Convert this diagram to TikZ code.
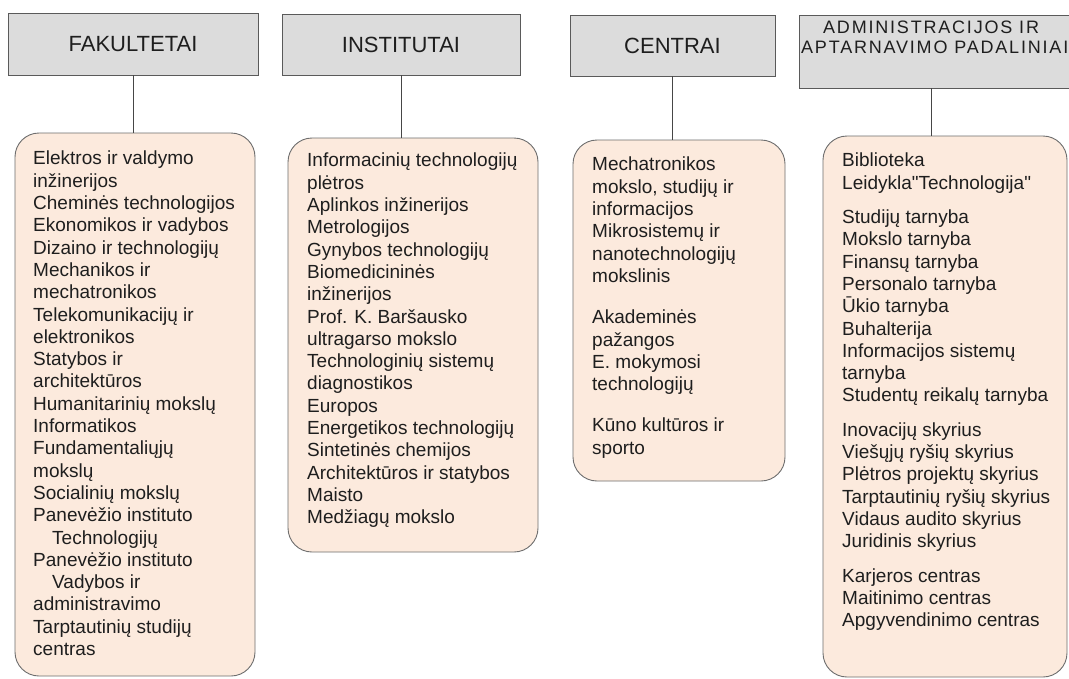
\documentclass[tikz,border=0pt]{standalone}
\usepackage{fontspec}
\setmainfont{Liberation Sans}
\definecolor{hdrfill}{RGB}{220,220,220}
\definecolor{hdrdraw}{RGB}{90,90,90}
\definecolor{boxfill}{RGB}{252,234,221}
\definecolor{boxdraw}{RGB}{110,110,110}
\definecolor{linkc}{RGB}{70,70,70}
\definecolor{txt}{RGB}{30,30,30}
\begin{document}
\begin{tikzpicture}[x=1pt,y=-1pt,
  hdr/.style={draw=hdrdraw, fill=hdrfill, line width=0.9pt, inner sep=0pt, font=\fontsize{22}{25}\selectfont, text=txt},
  cbox/.style={draw=boxdraw, fill=boxfill, line width=0.9pt, rounded corners=24pt, inner sep=0pt},
  list/.style={anchor=north west, align=left, inner sep=0pt, font=\fontsize{19}{22.3}\selectfont, text=txt},
  link/.style={draw=linkc, line width=0.9pt}]
\useasboundingbox (0,0) rectangle (1069,678);
\clip (0,0) rectangle (1069,678);
\fill[white] (0,0) rectangle (1069,678);

% headers
\node[hdr, minimum width=250pt, minimum height=62pt] (h1) at (133,44) {FAKULTETAI};
\node[hdr, minimum width=238pt, minimum height=61pt] (h2) at (401,44.5) {INSTITUTAI};
\node[hdr, minimum width=205pt, minimum height=61pt] (h3) at (672.5,45.5) {CENTRAI};
\node[hdr, minimum width=280pt, minimum height=73pt] (h4) at (939,51.5) {};
\node[anchor=north west, align=left, inner sep=0pt, text=txt,
      font=\fontsize{18}{19.5}\selectfont\addfontfeature{LetterSpace=10}] (h4t) at (801,21)
      {\hspace*{22pt}ADMINISTRACIJOS IR\\APTARNAVIMO PADALINIAI};

% content boxes
\node[cbox, minimum width=240pt, minimum height=543pt] (b1) at (135,404.5) {};
\node[cbox, minimum width=250pt, minimum height=414pt] (b2) at (413,345) {};
\node[cbox, minimum width=212pt, minimum height=341pt] (b3) at (679,310.5) {};
\node[cbox, minimum width=244pt, minimum height=541pt] (b4) at (945,406.5) {};

% connectors
\draw[link] (h1.south) -- (h1.south |- b1.north);
\draw[link] (h2.south) -- (h2.south |- b2.north);
\draw[link] (h3.south) -- (h3.south |- b3.north);
\draw[link] ([xshift=-8pt]h4.south) -- ([xshift=-8pt]h4.south |- b4.north);

% lists
\node[list] (l1) at (33,151) {Elektros ir valdymo\\inžinerijos\\Cheminės technologijos\\Ekonomikos ir vadybos\\Dizaino ir technologijų\\Mechanikos ir\\mechatronikos\\Telekomunikacijų ir\\elektronikos\\Statybos ir\\architektūros\\Humanitarinių mokslų\\Informatikos\\Fundamentaliųjų\\mokslų\\Socialinių mokslų\\Panevėžio instituto\\\hspace*{19pt}Technologijų\\Panevėžio instituto\\\hspace*{19pt}Vadybos ir\\administravimo\\Tarptautinių studijų\\centras};

\node[list] (l2) at (307,153) {Informacinių technologijų\\plėtros\\Aplinkos inžinerijos\\Metrologijos\\Gynybos technologijų\\Biomedicininės\\inžinerijos\\Prof. K. Baršausko\\ultragarso mokslo\\Technologinių sistemų\\diagnostikos\\Europos\\Energetikos technologijų\\Sintetinės chemijos\\Architektūros ir statybos\\Maisto\\Medžiagų mokslo};

\node[list] (l3) at (592,157) {Mechatronikos\\mokslo, studijų ir\\informacijos\\Mikrosistemų ir\\nanotechnologijų\\mokslinis\\[19pt]Akademinės\\pažangos\\E. mokymosi\\technologijų\\[19pt]Kūno kultūros ir\\sporto};

\node[list] (l4) at (842,153) {Biblioteka\\Leidykla\textquotedbl Technologija\textquotedbl\\[12pt]Studijų tarnyba\\Mokslo tarnyba\\Finansų tarnyba\\Personalo tarnyba\\Ūkio tarnyba\\Buhalterija\\Informacijos sistemų\\tarnyba\\Studentų reikalų tarnyba\\[12pt]Inovacijų skyrius\\Viešųjų ryšių skyrius\\Plėtros projektų skyrius\\Tarptautinių ryšių skyrius\\Vidaus audito skyrius\\Juridinis skyrius\\[12pt]Karjeros centras\\Maitinimo centras\\Apgyvendinimo centras};
\end{tikzpicture}
\end{document}
